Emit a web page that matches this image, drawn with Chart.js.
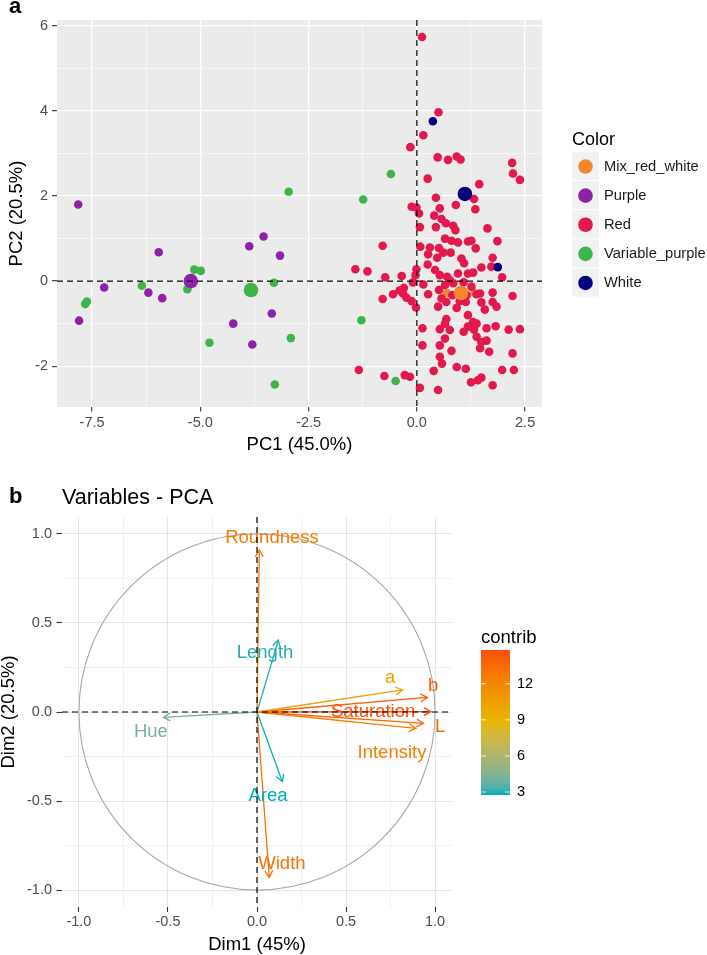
<!DOCTYPE html>
<html>
<head>
<meta charset="utf-8">
<style>
  body { margin: 0; background: #fff; width: 707px; height: 955px; position: relative; overflow: hidden;
         font-family: "Liberation Sans", Arial, sans-serif; }
  canvas { position: absolute; left: 0; }
  #indChart { top: 0; }
  #varChart { top: 460px; }
  .tag { position: absolute; left: 9px; font-weight: bold; font-size: 22px; line-height: 22px; z-index: 2; }
  #varTitle { position: absolute; left: 62px; top: 487px; font-size: 21.5px; line-height: 21.5px; z-index: 2; }
</style>
</head>
<body>

<canvas id="indChart" width="707" height="460"></canvas>
<canvas id="varChart" width="707" height="495"></canvas>
<div class="tag" style="top:-5px">a</div>
<div class="tag" style="top:485px">b</div>
<div id="varTitle">Variables - PCA</div>

<script src="https://cdn.jsdelivr.net/npm/chart.js@4.4.1/dist/chart.umd.min.js"></script>
<script>
// ---------- panel a : individuals ----------
const groups = ['Mix_red_white', 'Purple', 'Red', 'Variable_purple', 'White'];
const groupColors = ['#F5862E', '#8E22A6', '#E3184D', '#3DB54A', '#00007F'];

const mixX = [0.69, 1.34];
const mixY = [-0.28, -0.28];

const purpleX = [-7.82, -5.96, -3.87, -3.54, -3.16, -7.22, -6.20, -5.88, -7.80, -4.24, -3.35, -3.80];
const purpleY = [1.80, 0.68, 0.82, 1.05, 0.60, -0.15, -0.27, -0.40, -0.93, -1.00, -0.76, -1.49];

const varPurpleX = [-2.96, -7.62, -7.66, -6.35, -5.14, -4.99, -5.30, -3.30, -4.79, -2.91, -3.28, -0.60, -1.24, -1.28, -0.49];
const varPurpleY = [2.10, -0.48, -0.54, -0.11, 0.27, 0.24, -0.19, -0.04, -1.45, -1.34, -2.43, 2.52, 1.92, -0.92, -2.35];

const whiteX = [0.37, 1.87, 1.09];
const whiteY = [3.76, 0.33, 2.06];

const redX = [0.12, 0.50, 0.15, -0.15, 0.48, 0.72, 0.92, 1.01, 2.20, 2.22, 2.38, 0.25, 1.44, 0.44, 1.32,
  0.90, 1.35, -0.12, -0.01, 0.05, 0.53, 0.40, 0.57, 0.67, 0.07, 0.44, 0.84, 0.89, 1.63,
  0.65, 0.80, 0.95, 1.18, 1.26, 1.86, -0.79, 0.08, 0.30, 0.51, 1.36, 0.61, 0.78, 0.26, 0.47, 1.03, 1.75,
  0.25, 1.09, -1.42, -1.14, -0.01, 0.42, 1.49, 1.72, -0.73, -0.35, -0.03, 0.53, 0.70, 0.95, 1.18, 1.30, 1.97,
  0.15, -0.09, 0.65, 0.84, 1.26, -0.30, -0.55, -0.32, -0.24, -0.79, 0.26, 0.51, 1.38, 1.75, 2.21,
  -0.12, -0.02, 0.49, 0.68, 0.92, 1.13, 1.49, 1.57, 1.75, 1.84, 1.18, 0.68, 0.65, 1.30,
  0.13, 0.53, 0.76, 1.08, 1.18, 1.32, 1.61, 1.82, 2.12, 2.38, 0.65, 1.38, 1.49, 1.61,
  0.13, 0.53, 0.80, 1.46, 1.67, 2.21, 0.53, 0.58, 0.92, 1.13, 0.39, 1.97, 2.24, -1.34,
  -0.75, -0.28, -0.16, 1.49, 1.25, 1.75, 0.07, 0.49, 1.41,
  0.76, 1.08, 0.82, 1.15, 0.99, 0.57, 1.46, 1.38, -0.40];
const redY = [5.74, 3.97, 3.43, 3.15, 2.91, 2.85, 2.93, 2.86, 2.78, 2.53, 2.38, 2.41, 2.28, 1.96, 1.93,
  1.79, 1.69, 1.75, 1.73, 1.59, 1.71, 1.54, 1.46, 1.36, 1.27, 1.27, 1.30, 1.20, 1.24,
  1.00, 0.95, 0.91, 0.93, 0.95, 0.94, 0.83, 0.81, 0.79, 0.78, 0.77, 0.67, 0.67, 0.63, 0.55, 0.53, 0.55,
  0.39, 0.42, 0.28, 0.23, 0.28, 0.26, 0.32, 0.34, 0.09, 0.12, 0.14, 0.14, 0.10, 0.18, 0.18, 0.20, 0.09,
  -0.08, -0.03, -0.09, -0.05, -0.13, -0.16, -0.31, -0.29, -0.39, -0.42, -0.31, -0.21, -0.31, -0.27, -0.35,
  -0.47, -0.62, -0.60, -0.49, -0.63, -0.49, -0.50, -0.67, -0.49, -0.60, -0.80, -0.89, -1.00, -0.96,
  -1.11, -1.13, -1.15, -1.19, -1.07, -1.14, -1.11, -1.06, -1.14, -1.13, -1.35, -1.31, -1.43, -1.40,
  -1.51, -1.51, -1.64, -1.58, -1.66, -1.70, -1.78, -1.94, -2.02, -2.06, -2.11, -2.09, -2.09, -2.09,
  -2.23, -2.21, -2.25, -2.27, -2.38, -2.45, -2.51, -2.56, -2.33,
  0.02, -0.03, -0.33, -0.33, -0.47, -0.41, -0.29, -1.00, -0.22];

// group centres (big points)
const meanGroups = ['Mix_red_white', 'Purple', 'Variable_purple', 'White'];
const meanX = [1.02, -5.22, -3.83, 1.11];
const meanY = [-0.28, 0.00, -0.21, 2.05];

const pc1Ticks = [-7.5, -6.25, -5, -3.75, -2.5, -1.25, 0, 1.25, 2.5];
const pc2Ticks = [-2, -1, 0, 1, 2, 3, 4, 5, 6];

// ---------- panel b : variables ----------
const variables = ['Roundness', 'Length', 'a', 'b', 'Saturation', 'L', 'Intensity', 'Hue', 'Area', 'Width'];
const dim1 = [0.013, 0.12, 0.817, 0.957, 0.976, 0.935, 0.892, -0.526, 0.142, 0.069];
const dim2 = [0.91, 0.404, 0.124, 0.082, 0.002, -0.064, -0.092, -0.03, -0.391, -0.929];
const contrib = [12.7, 2.9, 10.3, 14.1, 14.8, 13.5, 12.4, 4.3, 2.75, 13.2];
const contribTicks = [3, 6, 9, 12];
const dimTicks = [-1, -0.75, -0.5, -0.25, 0, 0.25, 0.5, 0.75, 1];

// where each arrow label sits (layout only)
const labelAt = {
  Roundness: [0.084, 0.978], Length: [0.045, 0.331], a: [0.747, 0.191], b: [0.989, 0.146],
  Saturation: [0.652, 0.0], L: [1.028, -0.084], Intensity: [0.758, -0.23], Hue: [-0.596, -0.112],
  Area: [0.062, -0.472], Width: [0.14, -0.854]
};

const FONT = '"Liberation Sans", Arial, sans-serif';
Chart.defaults.font.family = FONT;
Chart.defaults.color = '#4D4D4D';

const pts = (xs, ys) => xs.map((x, i) => ({ x, y: ys[i] }));

// contrib gradient (low / mid / high), blended in Lab like ggplot does
const gradCols = [[0, 175, 187], [231, 184, 0], [252, 78, 7]];
const cMin = Math.min(...contrib), cMax = Math.max(...contrib);

function toLab(c) {
  const lin = c.map(v => { v /= 255; return v > 0.04045 ? Math.pow((v + 0.055) / 1.055, 2.4) : v / 12.92; });
  const X = (lin[0] * 0.4124 + lin[1] * 0.3576 + lin[2] * 0.1805) / 0.95047;
  const Y = lin[0] * 0.2126 + lin[1] * 0.7152 + lin[2] * 0.0722;
  const Z = (lin[0] * 0.0193 + lin[1] * 0.1192 + lin[2] * 0.9505) / 1.08883;
  const f = t => t > 0.008856 ? Math.cbrt(t) : 7.787 * t + 16 / 116;
  return [116 * f(Y) - 16, 500 * (f(X) - f(Y)), 200 * (f(Y) - f(Z))];
}
function fromLab(l) {
  const fy = (l[0] + 16) / 116, fx = fy + l[1] / 500, fz = fy - l[2] / 200;
  const g = t => t ** 3 > 0.008856 ? t ** 3 : (t - 16 / 116) / 7.787;
  const X = g(fx) * 0.95047, Y = g(fy), Z = g(fz) * 1.08883;
  const lin = [X * 3.2406 - Y * 1.5372 - Z * 0.4986, -X * 0.9689 + Y * 1.8758 + Z * 0.0415, X * 0.0557 - Y * 0.2040 + Z * 1.0570];
  return lin.map(v => {
    v = v > 0.0031308 ? 1.055 * Math.pow(v, 1 / 2.4) - 0.055 : 12.92 * v;
    return Math.max(0, Math.min(255, Math.round(v * 255)));
  });
}
const gradLab = gradCols.map(toLab);
function gradAt(t) {
  t = Math.max(0, Math.min(1, t));
  const seg = t < 0.5 ? 0 : 1, u = t < 0.5 ? t * 2 : (t - 0.5) * 2;
  const a = gradLab[seg], b = gradLab[seg + 1];
  const c = fromLab(a.map((k, i) => k + (b[i] - k) * u));
  return `rgb(${c[0]},${c[1]},${c[2]})`;
}
const contribColor = v => gradAt((v - cMin) / (cMax - cMin));

function makeAxis(o) {
  const maj = v => v != null && Math.abs(v / o.step - Math.round(v / o.step)) < 1e-6;
  return {
    type: 'linear', min: o.min, max: o.max,
    afterBuildTicks: s => { s.ticks = o.ticks.map(v => ({ value: v })); },
    afterFit: s => { if (o.width != null) s.width = o.width; if (o.height != null) s.height = o.height; },
    border: { display: false },
    grid: {
      color: c => maj(c.tick && c.tick.value) ? o.major : o.minor,
      lineWidth: c => maj(c.tick && c.tick.value) ? o.majorW : o.minorW,
      tickColor: c => maj(c.tick && c.tick.value) ? '#333333' : 'rgba(0,0,0,0)',
      tickWidth: 1.1,
      tickLength: o.tickLen
    },
    ticks: {
      autoSkip: false, maxRotation: 0, padding: o.pad, color: '#4D4D4D',
      font: { size: 14.5 },
      callback: v => maj(v) ? o.fmt(v) : ''
    },
    title: { display: true, text: o.title, color: '#000', font: { size: 18.5, lineHeight: 1 }, padding: o.titlePad }
  };
}

// shared plugins
const panelBg = {
  id: 'panelBg',
  beforeDraw(chart, args, o) {
    if (!o.color) return;
    const { ctx, chartArea: a } = chart;
    ctx.save();
    ctx.fillStyle = o.color;
    ctx.fillRect(a.left, a.top, a.right - a.left, a.bottom - a.top);
    ctx.restore();
  }
};

function drawZeroLines(chart) {
  const { ctx, chartArea: a, scales: { x, y } } = chart;
  const x0 = x.getPixelForValue(0), y0 = y.getPixelForValue(0);
  ctx.save();
  ctx.strokeStyle = '#000';
  ctx.lineWidth = 1.2;
  ctx.setLineDash([6, 4]);
  ctx.beginPath();
  ctx.moveTo(a.left, y0); ctx.lineTo(a.right, y0);
  ctx.moveTo(x0, a.top); ctx.lineTo(x0, a.bottom);
  ctx.stroke();
  ctx.restore();
}

const groupLegend = {
  id: 'groupLegend',
  afterDatasetsDraw(chart) { drawZeroLines(chart); },
  afterDraw(chart, args, o) {
    const ctx = chart.ctx;
    ctx.save();
    ctx.fillStyle = '#000';
    ctx.font = `18px ${FONT}`;
    ctx.textAlign = 'left';
    ctx.textBaseline = 'alphabetic';
    ctx.fillText(o.title, o.x, o.titleBase);
    groups.forEach((g, i) => {
      const top = o.top + i * o.row;
      ctx.fillStyle = '#F2F2F2';
      ctx.fillRect(o.x, top, o.key, o.row - 1);
      ctx.fillStyle = groupColors[i];
      ctx.beginPath();
      ctx.arc(o.x + o.key / 2, top + o.row / 2, o.r, 0, Math.PI * 2);
      ctx.fill();
      ctx.fillStyle = '#1A1A1A';
      ctx.font = `14.7px ${FONT}`;
      ctx.textBaseline = 'middle';
      ctx.fillText(g, o.x + o.key + 5, top + o.row / 2);
    });
    ctx.restore();
  }
};

// ---------- chart a ----------
const indSets = [
  { label: groups[3], data: pts(varPurpleX, varPurpleY), backgroundColor: groupColors[3] },
  { label: groups[1], data: pts(purpleX, purpleY), backgroundColor: groupColors[1] },
  { label: groups[0], data: pts(mixX, mixY), backgroundColor: groupColors[0] },
  { label: groups[2], data: pts(redX, redY), backgroundColor: groupColors[2] },
  { label: groups[4], data: pts(whiteX, whiteY), backgroundColor: groupColors[4] }
].map((d, i) => Object.assign(d, { pointRadius: 4.3, borderWidth: 0, order: 10 - i }));

indSets.push({
  label: 'means',
  data: pts(meanX, meanY),
  backgroundColor: meanGroups.map(g => groupColors[groups.indexOf(g)]),
  pointRadius: 7.3, borderWidth: 0, order: 0
});

new Chart(document.getElementById('indChart'), {
  type: 'scatter',
  data: { datasets: indSets },
  options: {
    responsive: false, animation: false, events: [],
    layout: { padding: { top: 20, right: 165, left: 0, bottom: 0 } },
    scales: {
      x: makeAxis({ min: -8.31, max: 2.89, ticks: pc1Ticks, step: 2.5, fmt: v => v.toFixed(1),
        major: '#FFFFFF', minor: '#FAFAFA', majorW: 1.3, minorW: 0.7, tickLen: 4.5, pad: 2.5,
        height: 53, title: 'PC1 (45.0%)', titlePad: { top: 0, bottom: 5.5 } }),
      y: makeAxis({ min: -2.96, max: 6.14, ticks: pc2Ticks, step: 2, fmt: v => String(v),
        major: '#FFFFFF', minor: '#FAFAFA', majorW: 1.3, minorW: 0.7, tickLen: 5, pad: 4,
        width: 57, title: 'PC2 (20.5%)', titlePad: { top: 8, bottom: 0 } })
    },
    plugins: {
      legend: { display: false }, tooltip: { enabled: false },
      panelBg: { color: '#EBEBEB' },
      groupLegend: { title: 'Color', x: 572, titleBase: 145, top: 152, row: 29.1, key: 27, r: 7.3 }
    }
  },
  plugins: [panelBg, groupLegend]
});

// ---------- chart b ----------
const varPlugin = {
  id: 'varPlugin',
  beforeDatasetsDraw(chart) {
    const { ctx, scales: { x, y } } = chart;
    const cx = x.getPixelForValue(0), cy = y.getPixelForValue(0);
    const r = x.getPixelForValue(1) - cx;
    ctx.save();
    ctx.strokeStyle = '#A8A8A8';
    ctx.lineWidth = 1.1;
    ctx.beginPath();
    ctx.arc(cx, cy, r, 0, Math.PI * 2);
    ctx.stroke();
    ctx.restore();
  },
  afterDatasetsDraw(chart) {
    const { ctx, scales: { x, y } } = chart;
    chart.data.datasets.forEach((ds, i) => {
      const [p0, p1] = chart.getDatasetMeta(i).data;
      const ang = Math.atan2(p1.y - p0.y, p1.x - p0.x);
      const len = 8, spread = Math.PI / 6;
      ctx.save();
      ctx.strokeStyle = ds.borderColor;
      ctx.lineWidth = ds.borderWidth;
      ctx.beginPath();
      ctx.moveTo(p1.x - len * Math.cos(ang - spread), p1.y - len * Math.sin(ang - spread));
      ctx.lineTo(p1.x, p1.y);
      ctx.lineTo(p1.x - len * Math.cos(ang + spread), p1.y - len * Math.sin(ang + spread));
      ctx.stroke();
      ctx.restore();
    });
    ctx.save();
    ctx.font = `18.5px ${FONT}`;
    ctx.textAlign = 'center';
    ctx.textBaseline = 'middle';
    variables.forEach((v, i) => {
      const [lx, ly] = labelAt[v];
      ctx.fillStyle = contribColor(contrib[i]);
      ctx.fillText(v, x.getPixelForValue(lx), y.getPixelForValue(ly));
    });
    ctx.restore();
    drawZeroLines(chart);
  },
  afterDraw(chart, args, o) {
    const ctx = chart.ctx;
    const h = o.bottom - o.top;
    const yOf = v => o.bottom - (v - cMin) / (cMax - cMin) * h;
    ctx.save();
    const g = ctx.createLinearGradient(0, o.bottom, 0, o.top);
    for (let k = 0; k <= 20; k++) g.addColorStop(k / 20, gradAt(k / 20));
    ctx.fillStyle = g;
    ctx.fillRect(o.left, o.top, o.width, h);
    ctx.fillStyle = '#000';
    ctx.font = `18.5px ${FONT}`;
    ctx.textAlign = 'left';
    ctx.textBaseline = 'alphabetic';
    ctx.fillText(o.title, o.left, o.titleBase);
    ctx.font = `14.5px ${FONT}`;
    ctx.textBaseline = 'middle';
    ctx.strokeStyle = 'rgba(255,255,255,0.8)';
    ctx.lineWidth = 1;
    contribTicks.forEach(v => {
      const ty = yOf(v);
      ctx.beginPath();
      ctx.moveTo(o.left, ty); ctx.lineTo(o.left + 5, ty);
      ctx.moveTo(o.left + o.width - 5, ty); ctx.lineTo(o.left + o.width, ty);
      ctx.stroke();
      ctx.fillText(String(v), o.left + o.width + 7, ty);
    });
    ctx.restore();
  }
};

const varSets = variables.map((v, i) => ({
  label: v,
  data: [{ x: 0, y: 0 }, { x: dim1[i], y: dim2[i] }],
  showLine: true,
  borderColor: contribColor(contrib[i]),
  borderWidth: 1.3,
  pointRadius: 0,
  fill: false
}));

new Chart(document.getElementById('varChart'), {
  type: 'scatter',
  data: { datasets: varSets },
  options: {
    responsive: false, animation: false, events: [],
    layout: { padding: { top: 57, right: 255, left: 0, bottom: 0 } },
    scales: {
      x: makeAxis({ min: -1.095, max: 1.095, ticks: dimTicks, step: 0.5, fmt: v => v.toFixed(1),
        major: '#E6E6E6', minor: '#F1F1F1', majorW: 1, minorW: 1, tickLen: 5, pad: 1.5,
        height: 48, title: 'Dim1 (45%)', titlePad: { top: 0, bottom: 1 } }),
      y: makeAxis({ min: -1.095, max: 1.095, ticks: dimTicks, step: 0.5, fmt: v => v.toFixed(1),
        major: '#E6E6E6', minor: '#F1F1F1', majorW: 1, minorW: 1, tickLen: 5.5, pad: 4.5,
        width: 62, title: 'Dim2 (20.5%)', titlePad: { top: 0, bottom: 0 } })
    },
    plugins: {
      legend: { display: false }, tooltip: { enabled: false },
      varPlugin: { left: 481, width: 29, top: 190, bottom: 335, title: 'contrib', titleBase: 183 }
    }
  },
  plugins: [varPlugin]
});
</script>
</body>
</html>
